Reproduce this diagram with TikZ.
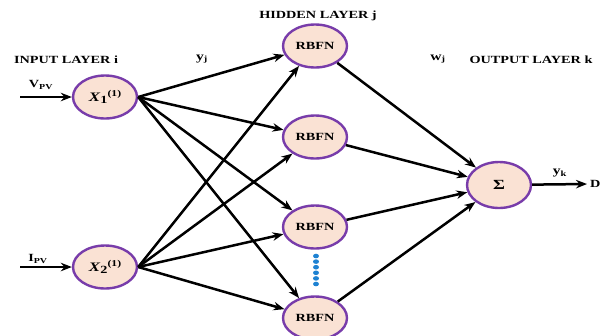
\documentclass[tikz,border=0pt]{standalone}
\usepackage{fontspec}
\setmainfont{Liberation Serif}
\usetikzlibrary{shapes.geometric,arrows.meta}
\definecolor{peach}{RGB}{250,226,212}
\definecolor{ringpurple}{RGB}{120,60,170}
\definecolor{dotblue}{RGB}{30,130,210}
\newcommand{\wide}[1]{\scalebox{1.3}[1]{#1}}
\tikzset{
  neuron/.style={ellipse,draw=ringpurple,line width=2.4bp,fill=peach,minimum width=64bp,minimum height=43bp,inner sep=0pt,font=\bfseries\fontsize{11}{12}\selectfont},
  conn/.style={line width=2.5bp,-{Stealth[length=11bp,width=8.5bp]}},
  lbl/.style={font=\bfseries\fontsize{11}{12}\selectfont,inner sep=0pt}
}
\newcommand{\xlab}[1]{\textit{X}\raisebox{-0.4ex}{\fontsize{11}{12}\selectfont #1}\raisebox{0.75ex}{\fontsize{9}{10}\selectfont (1)}}
\begin{document}
\begin{tikzpicture}[x=1bp,y=1bp,yscale=-1]
\useasboundingbox (0,0) rectangle (601,335);
% nodes
\node[neuron] (x1) at (105,97) {\wide{\fontsize{13}{14}\selectfont\xlab{1}}};
\node[neuron] (x2) at (105,267) {\wide{\fontsize{13}{14}\selectfont\xlab{2}}};
\node[neuron] (h1) at (315,46) {\wide{RBFN}};
\node[neuron] (h2) at (315,137) {\wide{RBFN}};
\node[neuron] (h3) at (315,227) {\wide{RBFN}};
\node[neuron] (h4) at (315,318) {\wide{RBFN}};
\node[neuron,minimum height=46bp] (s) at (499,185) {\wide{\fontsize{14}{15}\selectfont Σ}};
% dots
\foreach \k in {0,...,5}
  \fill[dotblue] (316,256+5.6*\k) ellipse (3bp and 2.3bp);
% input coordinates
\coordinate (vin) at (20,97);
\coordinate (iin) at (20,267);
\coordinate (outp) at (587,184);
% labels
\node[lbl] (lin) at (66,60) {\wide{INPUT LAYER i}};
\node[lbl] (lhid) at (318,16) {\wide{HIDDEN LAYER j}};
\node[lbl] (lout) at (531,60) {\wide{OUTPUT LAYER k}};
\node[lbl] (ly) at (202,59) {\wide{\fontsize{12}{13}\selectfont y\textsubscript{j}}};
\node[lbl] (lw) at (438,59) {\wide{\fontsize{12}{13}\selectfont w\textsubscript{j}}};
\node[lbl] (lv) at (41,85) {\wide{V\textsubscript{PV}}};
\node[lbl] (li) at (38,259) {\wide{I\textsubscript{PV}}};
\node[lbl] (lyk) at (560,173) {\wide{\fontsize{12}{13}\selectfont y\textsubscript{k}}};
\node[lbl,anchor=east] (ld) at (600.5,184) {\wide{D}};
% connectors
\draw[conn] (vin) -- (x1);
\draw[conn] (iin) -- (x2);
\foreach \h in {h1,h2,h3,h4} {
  \draw[conn] (x1.east) -- (\h);
  \draw[conn] (x2.east) -- (\h);
  \draw[conn] (\h) -- (s);
}
\draw[conn] (s) -- (outp);
\end{tikzpicture}
\end{document}
